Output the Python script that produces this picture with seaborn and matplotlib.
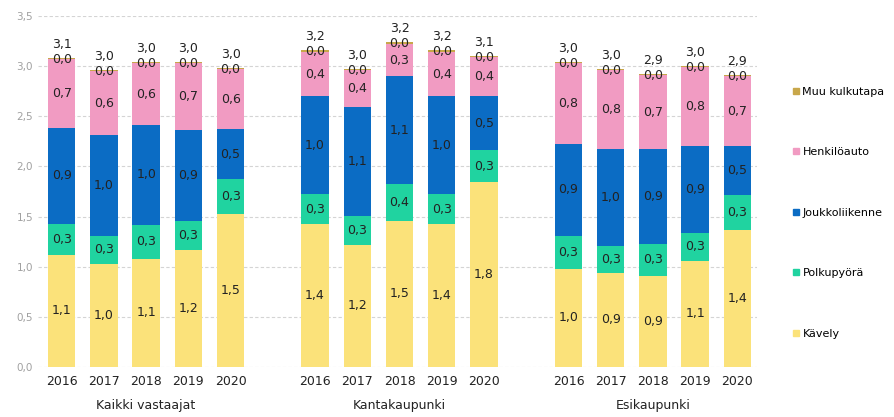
import numpy as np
import pandas as pd
import matplotlib
matplotlib.use("Agg")
import matplotlib.pyplot as plt
from matplotlib.lines import Line2D
import seaborn as sns

groups = ["Kaikki vastaajat", "Kantakaupunki", "Esikaupunki"]
years = ["2016", "2017", "2018", "2019", "2020"]
modes = ["Muu kulkutapa", "Henkilöauto", "Joukkoliikenne", "Polkupyörä", "Kävely"]

# values per group, years 2016..2020
kavely = [1.12, 1.03, 1.08, 1.17, 1.53,
          1.43, 1.22, 1.46, 1.43, 1.84,
          0.98, 0.94, 0.91, 1.06, 1.37]
polkupyora = [0.31, 0.28, 0.34, 0.29, 0.34,
              0.29, 0.29, 0.36, 0.29, 0.32,
              0.33, 0.27, 0.32, 0.28, 0.34]
joukkoliikenne = [0.95, 1.00, 0.99, 0.90, 0.50,
                  0.98, 1.08, 1.08, 0.98, 0.54,
                  0.91, 0.96, 0.94, 0.86, 0.49]
henkiloauto = [0.69, 0.64, 0.62, 0.67, 0.60,
               0.44, 0.37, 0.32, 0.44, 0.39,
               0.81, 0.79, 0.74, 0.79, 0.70]
muu = [0.01, 0.01, 0.01, 0.01, 0.01,
       0.02, 0.01, 0.02, 0.02, 0.01,
       0.01, 0.01, 0.01, 0.01, 0.01]

colors = {"Muu kulkutapa": "#C8A74A", "Henkilöauto": "#F19BC2",
          "Joukkoliikenne": "#0B6CC4", "Polkupyörä": "#20D3A0",
          "Kävely": "#FBE27A"}

series = {"Kävely": kavely, "Polkupyörä": polkupyora,
          "Joukkoliikenne": joukkoliikenne, "Henkilöauto": henkiloauto,
          "Muu kulkutapa": muu}

positions = [g * 6 + i for g in range(len(groups)) for i in range(len(years))]

rows = []
for m, vals in series.items():
    for p, v in zip(positions, vals):
        rows.append({"pos": p, "mode": m, "value": v})
df = pd.DataFrame(rows)

fig = plt.figure(figsize=(8.94, 4.17), dpi=100)
ax = fig.add_axes([0.0425, 0.12, 0.8045, 0.8416])

sns.histplot(data=df, x="pos", weights="value", hue="mode", hue_order=modes,
             multiple="stack", discrete=True, shrink=0.65, palette=colors,
             alpha=1, linewidth=0, legend=False, ax=ax, zorder=3)

def fmt(v):
    return f"{v:.1f}".replace(".", ",")

stack_order = ["Kävely", "Polkupyörä", "Joukkoliikenne", "Henkilöauto"]
for idx, p in enumerate(positions):
    bottom = 0.0
    for m in stack_order:
        v = series[m][idx]
        ax.text(p, bottom + v / 2, fmt(v), ha="center", va="center",
                fontsize=9, color="#222222", zorder=5)
        bottom += v
    mv = muu[idx]
    top = bottom + mv
    ax.text(p, top - 0.01, fmt(mv), ha="center", va="center",
            fontsize=9, color="#222222", zorder=5)
    ax.text(p, top + 0.14, fmt(top), ha="center", va="center",
            fontsize=9, color="#222222", zorder=5)

ax.set_xlim(-0.56, 16.47)
ax.set_ylim(0, 3.5)
yt = np.arange(0, 3.51, 0.5)
ax.set_yticks(yt)
ax.set_yticklabels([fmt(v) for v in yt], fontsize=7.5, color="#A0A0A0")
ax.set_xticks(positions)
ax.set_xticklabels(years * len(groups), fontsize=9, color="#222222")
ax.tick_params(axis="both", length=0)
ax.tick_params(axis="x", pad=6)
ax.set_xlabel("")
ax.set_ylabel("")
for s in ax.spines.values():
    s.set_visible(False)
ax.grid(False)
for v in yt:
    ax.axhline(v, color="#D4D4D4", lw=0.8, ls=(0, (3, 2)), zorder=1)

for g, name in enumerate(groups):
    ax.text(g * 6 + 2, -0.11, name, transform=ax.get_xaxis_transform(),
            ha="center", va="center", fontsize=9, color="#222222")

handles = [Line2D([0], [0], marker="s", ls="", markersize=4.5,
                  markerfacecolor=colors[m], markeredgecolor=colors[m]) for m in modes]
fig.legend(handles, modes, loc="center left", bbox_to_anchor=(0.879, 0.49),
           frameon=False, fontsize=8, labelspacing=4.55, handletextpad=0.1,
           handlelength=1.0, borderaxespad=0)

fig.savefig("out.png", dpi=100)
